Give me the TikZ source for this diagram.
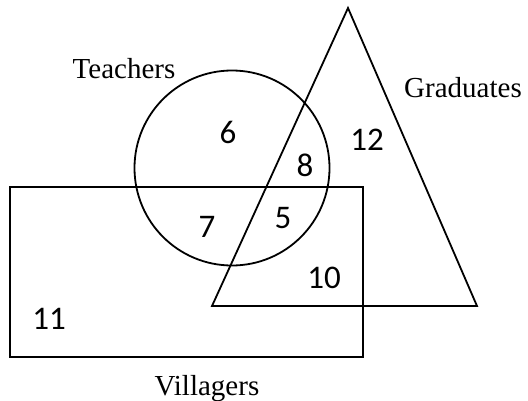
\documentclass[tikz,border=0pt]{standalone}
\usepackage{fontspec}
\setmainfont{Liberation Serif}
\newfontfamily\numfont{Carlito}
\begin{document}
\begin{tikzpicture}[x=1pt,y=-1pt,
  shape line/.style={draw=black,line width=1.8pt,line join=miter},
  setlabel/.style={anchor=base,inner sep=0pt,font=\fontsize{29}{29}\selectfont},
  count/.style={anchor=center,inner sep=0pt,font=\numfont\fontsize{33}{33}\selectfont}]
\useasboundingbox (0,0) rectangle (528,400);
% Villagers rectangle
\draw[shape line] (10,187) rectangle (363,357);
% Teachers circle
\draw[shape line] (232,168) circle[radius=97.5];
% Graduates triangle
\draw[shape line] (348,8) -- (477,306) -- (212,306) -- cycle;
% labels
\node[setlabel] (teachers) at (124,78) {Teachers};
\node[setlabel] (graduates) at (463,97) {Graduates};
\node[setlabel] (villagers) at (207,395) {Villagers};
% counts
\node[count] (n6) at (228,132) {6};
\node[count] (n8) at (305,165) {8};
\node[count] (n12) at (367,140) {12};
\node[count] (n7) at (207,227) {7};
\node[count] (n5) at (283,218) {5};
\node[count] (n10) at (324,278) {10};
\node[count] (n11) at (49,319) {11};
\end{tikzpicture}
\end{document}
